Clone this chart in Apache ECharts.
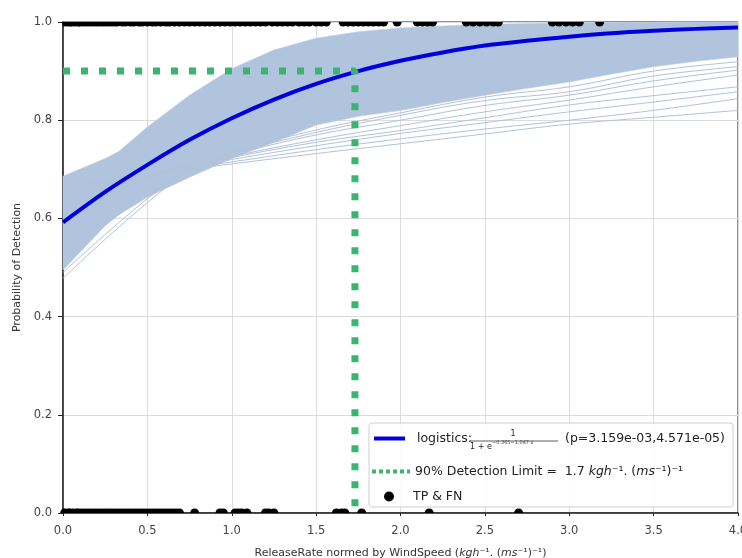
<!DOCTYPE html>
<html>
<head>
<meta charset="utf-8">
<script src="https://cdn.jsdelivr.net/npm/echarts@6/dist/echarts.min.js"></script>
<style>
    html, body { margin: 0; padding: 0; background: #fff; }
    #main { width: 742px; height: 558px; }
</style>
</head>
<body>
<div id="main"></div>
<script>
// --------------------------------------------------------------------------------------------------------------------
// fitted logistic curve
var fitX = [0, 0.25, 0.5, 0.75, 1, 1.25, 1.5, 1.75, 2, 2.25, 2.5, 2.75, 3, 3.25, 3.5, 3.75, 4];
var fitY = [0.592, 0.654, 0.709, 0.760, 0.804, 0.842, 0.874, 0.900, 0.921, 0.938, 0.952, 0.962, 0.970, 0.977, 0.982, 0.986, 0.989];

// bootstrap envelope (dense part)
var bandX = [0, 0.25, 0.33, 0.5, 0.75, 1, 1.25, 1.5, 1.75, 2, 2.25, 2.5, 2.75, 3, 3.25, 3.5, 3.75, 4];
var bandHigh = [0.686, 0.722, 0.736, 0.786, 0.851, 0.905, 0.943, 0.967, 0.980, 0.988, 0.992, 0.995, 0.997, 0.998, 0.999, 0.999, 1.0, 1.0];
var bandLow = [0.495, 0.585, 0.607, 0.643, 0.684, 0.722, 0.755, 0.790, 0.808, 0.820, 0.836, 0.851, 0.865, 0.878, 0.894, 0.909, 0.920, 0.929];

// single bootstrap curves standing out of the dense part
var bootX = [0, 0.5, 1, 1.5, 2, 2.5, 3, 3.5, 4];
var boot1 = [0.668, 0.690, 0.711, 0.732, 0.752, 0.772, 0.792, 0.806, 0.820];
var boot2 = [0.660, 0.690, 0.715, 0.740, 0.762, 0.782, 0.800, 0.820, 0.844];
var boot3 = [0.655, 0.690, 0.720, 0.748, 0.773, 0.795, 0.817, 0.837, 0.858];
var boot4 = [0.650, 0.690, 0.724, 0.755, 0.779, 0.805, 0.831, 0.850, 0.868];
var boot5 = [0.640, 0.685, 0.726, 0.760, 0.789, 0.817, 0.841, 0.868, 0.892];
var boot6 = [0.635, 0.685, 0.730, 0.770, 0.800, 0.830, 0.851, 0.880, 0.902];
var boot7 = [0.630, 0.685, 0.733, 0.775, 0.810, 0.840, 0.858, 0.890, 0.909];
var boot8 = [0.620, 0.680, 0.735, 0.780, 0.815, 0.847, 0.868, 0.900, 0.919];
var boot9 = [0.478, 0.632, 0.760, 0.860, 0.925, 0.960, 0.980, 0.990, 0.995];
var boot10 = [0.490, 0.640, 0.765, 0.862, 0.925, 0.960, 0.979, 0.989, 0.994];

// 90% detection limit
var limitX = [0, 1.73, 1.73];
var limitY = [0.9, 0.9, 0];

// observations: detected (1) and missed (0)
var tpX = [0.00, 0.02, 0.04, 0.05, 0.07, 0.09, 0.10, 0.12, 0.14, 0.16, 0.18, 0.20, 0.22, 0.24, 0.26, 0.28, 0.30,
    0.32, 0.35, 0.37, 0.40, 0.42, 0.45, 0.47, 0.50, 0.53, 0.55, 0.58, 0.61, 0.63, 0.66, 0.69, 0.72, 0.75, 0.78, 0.81,
    0.84, 0.87, 0.90, 0.93, 0.96, 0.99, 1.02, 1.05, 1.08, 1.11, 1.14, 1.17, 1.20, 1.24, 1.27, 1.30, 1.33, 1.36, 1.40,
    1.43, 1.46, 1.50, 1.53, 1.56, 1.66, 1.69, 1.72, 1.75, 1.78, 1.81, 1.84, 1.87, 1.90, 1.98, 2.10, 2.13, 2.16, 2.19,
    2.39, 2.43, 2.47, 2.51, 2.55, 2.58, 2.90, 2.94, 2.98, 3.02, 3.06, 3.18];
var fnX = [0.00, 0.01, 0.03, 0.04, 0.06, 0.08, 0.09, 0.11, 0.13, 0.15, 0.17, 0.19, 0.21, 0.23, 0.25, 0.27, 0.29,
    0.31, 0.33, 0.35, 0.37, 0.39, 0.41, 0.43, 0.45, 0.47, 0.49, 0.51, 0.53, 0.55, 0.57, 0.59, 0.61, 0.63, 0.65, 0.67,
    0.69, 0.78, 0.93, 0.95, 1.02, 1.04, 1.06, 1.09, 1.20, 1.22, 1.25, 1.62, 1.65, 1.67, 1.77, 2.17, 2.70];

var xTicks = ['0.0', '0.5', '1.0', '1.5', '2.0', '2.5', '3.0', '3.5', '4.0'];
var yTicks = ['0.0', '0.2', '0.4', '0.6', '0.8', '1.0'];
// --------------------------------------------------------------------------------------------------------------------

function pairs(xs, ys) {
    var out = [];
    for (var i = 0; i < xs.length; i++) {
        out.push([xs[i], ys[i]]);
    }
    return out;
}

function points(xs, y) {
    var out = [];
    for (var i = 0; i < xs.length; i++) {
        out.push([xs[i], y]);
    }
    return out;
}

var FONT = 'DejaVu Sans';
var BOOT_COLOR = '#b2c2da';
var DOT_R = 4.5;
var bootCurves = [boot1, boot2, boot3, boot4, boot5, boot6, boot7, boot8, boot9, boot10];

var series = [{
    type: 'custom',
    name: 'band',
    coordinateSystem: 'cartesian2d',
    silent: true,
    z: 1,
    data: [[0, 0]],
    renderItem: function (params, api) {
        var pts = [];
        for (var i = 0; i < bandX.length; i++) {
            pts.push(api.coord([bandX[i], bandHigh[i]]));
        }
        for (var j = bandX.length - 1; j >= 0; j--) {
            pts.push(api.coord([bandX[j], bandLow[j]]));
        }
        return {
            type: 'polygon',
            shape: { points: pts },
            style: { fill: '#b0c4de', stroke: '#bccbe0', lineWidth: 0.6 }
        };
    }
}];

for (var k = 0; k < bootCurves.length; k++) {
    series.push({
        type: 'line',
        name: 'boot' + k,
        data: pairs(bootX, bootCurves[k]),
        smooth: 0.4,
        symbol: 'none',
        silent: true,
        z: 2,
        lineStyle: { color: BOOT_COLOR, width: 1 }
    });
}

series.push({
    type: 'line',
    name: 'logistics',
    data: pairs(fitX, fitY),
    smooth: 0.3,
    symbol: 'none',
    z: 5,
    color: '#0000dd',
    lineStyle: { color: '#0000dd', width: 4 }
});

series.push({
    type: 'line',
    name: '90% Detection Limit',
    data: pairs(limitX, limitY),
    symbol: 'none',
    z: 6,
    color: '#3cb371',
    lineStyle: { color: '#3cb371', width: 7, type: [7, 11], cap: 'butt' }
});

// dots lying on the frame are cut by it (like matplotlib): draw only the inside part
series.push({
    type: 'custom',
    name: 'TP & FN',
    coordinateSystem: 'cartesian2d',
    z: 7,
    itemStyle: { color: '#000' },
    data: points(tpX, 1).concat(points(fnX, 0)),
    renderItem: function (params, api) {
        var p = api.coord([api.value(0), api.value(1)]);
        var rect = params.coordSys;
        var start = 0, end = Math.PI * 2;
        if (p[1] <= rect.y + 0.5) {
            start = 0; end = Math.PI;
        } else if (p[1] >= rect.y + rect.height - 0.5) {
            start = Math.PI; end = Math.PI * 2;
        }
        if (p[0] <= rect.x + 0.5) {
            if (start === 0 && end === Math.PI) { end = Math.PI / 2; }
            else if (start === Math.PI) { start = Math.PI * 1.5; }
        }
        return {
            type: 'sector',
            shape: { cx: p[0], cy: p[1], r0: 0, r: DOT_R, startAngle: start, endAngle: end, clockwise: true },
            style: { fill: '#000' }
        };
    }
});

var chart = echarts.init(document.getElementById('main'));
chart.setOption({
    animation: false,
    textStyle: { fontFamily: FONT },
    grid: {
        left: 63, right: 4, top: 22, bottom: 45,
        outerBoundsMode: 'none',
        containLabel: false,
        show: true, borderColor: '#222', borderWidth: 1, backgroundColor: '#fff'
    },
    xAxis: {
        type: 'value',
        min: 0, max: 4, interval: 0.5,
        name: 'ReleaseRate normed by WindSpeed ({i|kgh}\u207B\u00B9. ({i|ms}\u207B\u00B9)\u207B\u00B9)',
        nameLocation: 'middle',
        nameGap: 35,
        nameTextStyle: {
            fontFamily: FONT, fontSize: 11, color: '#333',
            rich: { i: { fontFamily: FONT, fontSize: 11, fontStyle: 'italic', color: '#333' } }
        },
        axisLine: { lineStyle: { color: '#222', width: 1.5 } },
        axisTick: { show: true, length: 3, lineStyle: { color: '#222' } },
        axisLabel: {
            fontFamily: FONT, fontSize: 11.5, color: '#444', margin: 12,
            formatter: function (v) { return xTicks[Math.round(v / 0.5)]; }
        },
        splitLine: { show: true, lineStyle: { color: '#dcdcdc', width: 1 } }
    },
    yAxis: {
        type: 'value',
        min: 0, max: 1, interval: 0.2,
        name: 'Probability of Detection',
        nameLocation: 'middle',
        nameGap: 40,
        nameTextStyle: { fontFamily: FONT, fontSize: 11, color: '#333' },
        axisLine: { show: true, lineStyle: { color: '#222', width: 1.5 } },
        axisTick: { show: true, length: 5, lineStyle: { color: '#222' } },
        axisLabel: {
            fontFamily: FONT, fontSize: 11.5, color: '#444', margin: 11,
            formatter: function (v) { return yTicks[Math.round(v / 0.2)]; }
        },
        splitLine: { show: true, lineStyle: { color: '#dcdcdc', width: 1 } }
    },
    legend: [{
        data: ['logistics'],
        left: 372, top: 432, padding: 0, z: 20,
        itemWidth: 31, itemHeight: 14,
        lineStyle: { width: 4 },
        itemStyle: { opacity: 0 },
        formatter: function () {
            return '{a|logistics:}{g|}{a|(p=3.159e-03,4.571e-05)}';
        },
        textStyle: {
            padding: [0, 0, 0, 7],
            rich: {
                a: { fontFamily: FONT, fontSize: 12.5, color: '#222' },
                g: { width: 93 }
            }
        }
    }, {
        data: ['90% Detection Limit'],
        left: 370, top: 465, padding: 0, z: 20,
        itemWidth: 38, itemHeight: 14,
        lineStyle: { width: 4, type: [4, 3] },
        itemStyle: { opacity: 0 },
        formatter: function () {
            return '{a|90% Detection Limit =  1.7 }{i|kgh}{a|\u207B\u00B9. (}{i|ms}{a|\u207B\u00B9)\u207B\u00B9}';
        },
        textStyle: {
            rich: {
                a: { fontFamily: FONT, fontSize: 12.5, color: '#222' },
                i: { fontFamily: FONT, fontSize: 12.5, fontStyle: 'italic', color: '#222' }
            }
        }
    }, {
        data: ['TP & FN'],
        left: 384, top: 490, padding: 0, z: 20,
        itemWidth: 10, itemHeight: 10,
        icon: 'circle',
        itemStyle: { color: '#000' },
        textStyle: { fontFamily: FONT, fontSize: 12.5, color: '#222', padding: [0, 0, 0, 14] }
    }],
    graphic: [{
        type: 'rect',
        z: 10,
        shape: { x: 369, y: 423, width: 364, height: 84, r: 3 },
        style: { fill: 'rgba(255,255,255,0.85)', stroke: '#cfcfcf', lineWidth: 1 }
    }, {
        type: 'text',
        z: 30,
        x: 513, y: 434,
        style: { text: '1', fontFamily: FONT, fontSize: 8, fill: '#222', align: 'center', verticalAlign: 'middle' }
    }, {
        type: 'line',
        z: 30,
        shape: { x1: 470, y1: 441, x2: 558, y2: 441 },
        style: { stroke: '#333', lineWidth: 0.8 }
    }, {
        type: 'text',
        z: 30,
        x: 470, y: 447,
        style: { text: '1 + e', fontFamily: FONT, fontSize: 8, fill: '#222', align: 'left', verticalAlign: 'middle' }
    }, {
        type: 'text',
        z: 30,
        x: 492, y: 443,
        style: { text: '\u22120.365\u22121.047\u00B7x', fontFamily: FONT, fontSize: 5, fill: '#444', align: 'left', verticalAlign: 'middle' }
    }],
    series: series
});
</script>
</body>
</html>
